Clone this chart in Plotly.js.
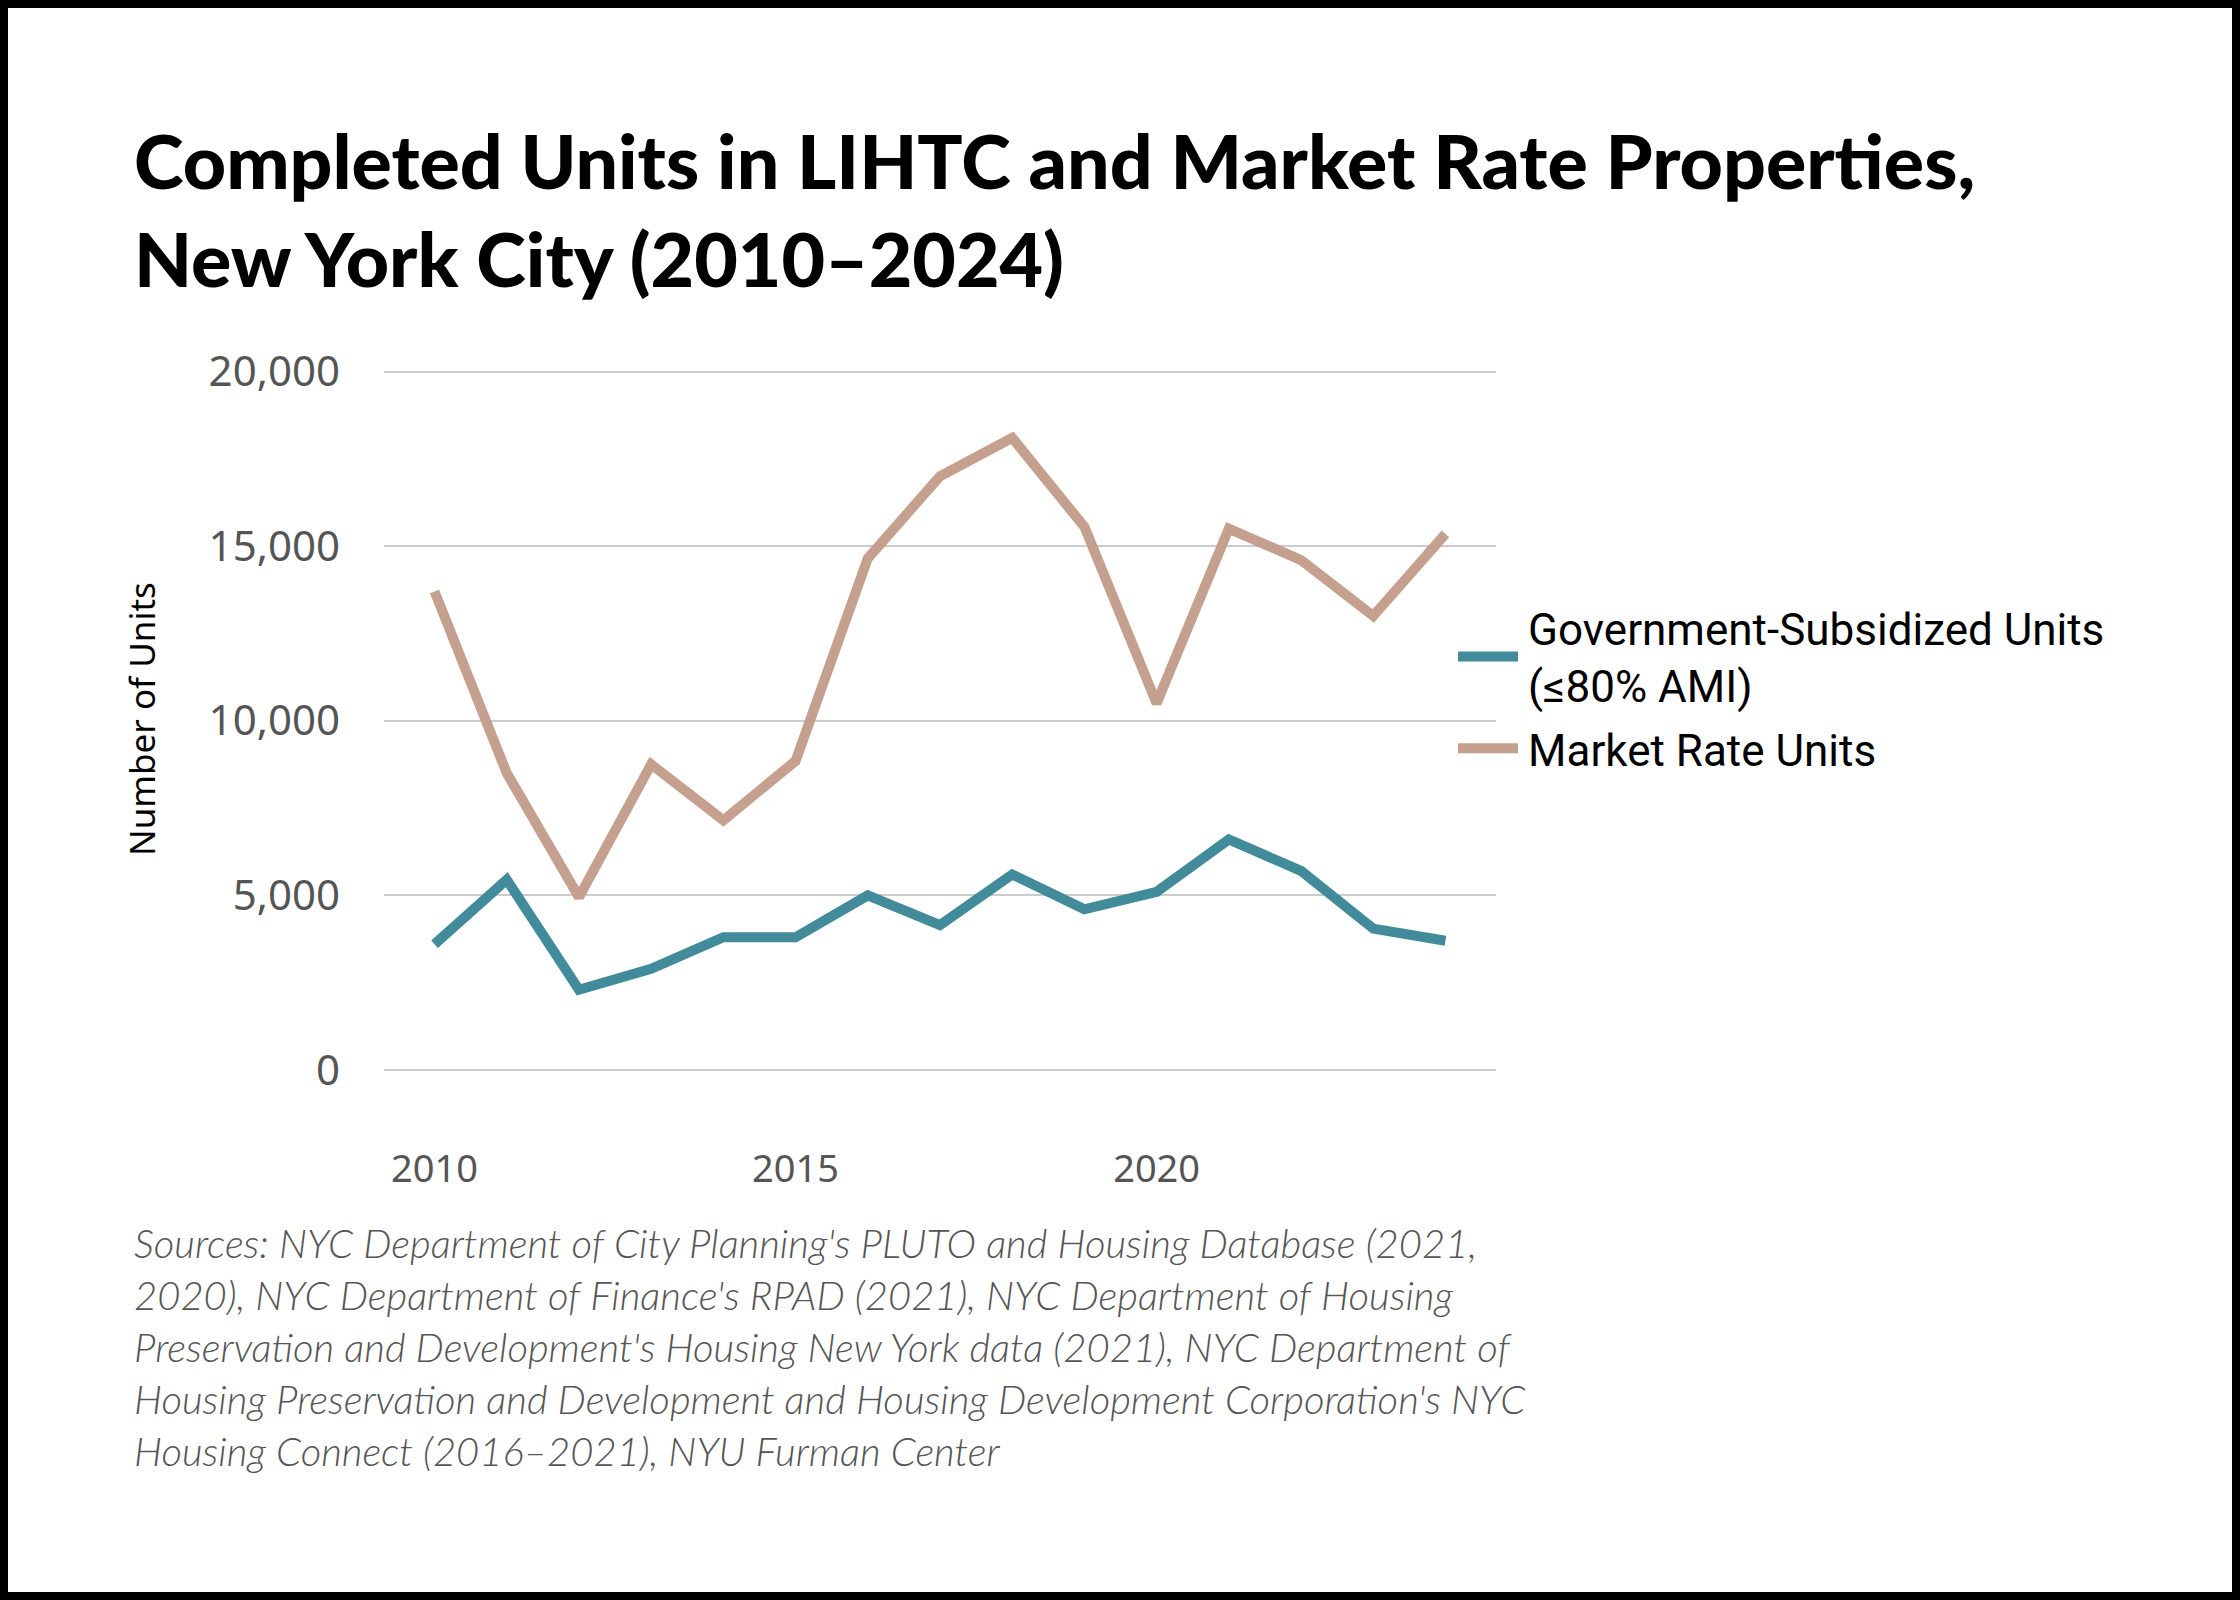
<!DOCTYPE html>
<html>
<head>
<meta charset="utf-8">
<script src="https://cdn.plot.ly/plotly-3.0.1.min.js"></script>
<style>
  html, body { margin: 0; padding: 0; background: #fff; overflow: hidden; }
  #wrap { position: relative; width: 2240px; height: 1600px; }
  #chart { position: absolute; left: 0; top: 0; width: 1120px; height: 800px;
           transform: scale(2); transform-origin: 0 0; }
  #frame { position: absolute; left: 0; top: 0; width: 2240px; height: 1600px;
           box-sizing: border-box; border: 8px solid #000; pointer-events: none; }
</style>
</head>
<body>
<div id="wrap">
  <div id="chart"></div>
  <div id="frame"></div>
</div>
<script>
const years = [2010, 2011, 2012, 2013, 2014, 2015, 2016, 2017, 2018, 2019, 2020, 2021, 2022, 2023, 2024];
const subsidizedUnits = [3600, 5450, 2300, 2900, 3800, 3800, 5000, 4150, 5600, 4600, 5100, 6600, 5700, 4050, 3700];
const marketRateUnits = [13700, 8500, 4950, 8750, 7150, 8850, 14650, 17000, 18100, 15550, 10500, 15500, 14600, 13000, 15350];
const yTicks = [0, 5000, 10000, 15000, 20000];
const yTickText = ['0', '5,000', '10,000', '15,000', '20,000'];
const xTicks = [2010, 2015, 2020];

const sourcesText = "Sources: NYC Department of City Planning's PLUTO and Housing Database (2021,<br>" +
  "2020), NYC Department of Finance's RPAD (2021), NYC Department of Housing<br>" +
  "Preservation and Development's Housing New York data (2021), NYC Department of<br>" +
  "Housing Preservation and Development and Housing Development Corporation's NYC<br>" +
  "Housing Connect (2016–2021), NYU Furman Center";

const data = [
  {
    type: 'scatter',
    mode: 'lines',
    x: years,
    y: subsidizedUnits,
    name: 'Government-Subsidized Units<br>(≤80% AMI)',
    line: { color: '#428b9b', width: 5 },
    hoverinfo: 'x+y'
  },
  {
    type: 'scatter',
    mode: 'lines',
    x: years,
    y: marketRateUnits,
    name: 'Market Rate Units',
    line: { color: '#c6a08e', width: 5 },
    hoverinfo: 'x+y'
  }
];

// top of range a little above 20,000 so that gridline is not clipped at the edge
const layout = {
  width: 1120,
  height: 800,
  paper_bgcolor: '#ffffff',
  plot_bgcolor: '#ffffff',
  margin: { l: 192, r: 371.5, t: 183.75, b: 265 },
  title: {
    text: 'Completed Units in LIHTC and Market Rate Properties,<br>New York City (2010–2024)',
    font: { family: 'Lato', size: 37.6, color: '#000', weight: 900 },
    xref: 'container',
    yref: 'container',
    x: 67 / 1120,
    xanchor: 'left',
    y: 1 - 94.5 / 800,
    yanchor: 'top'
  },
  xaxis: {
    range: [2009.3, 2024.7],
    tickvals: xTicks,
    ticktext: xTicks.map(String),
    showgrid: false,
    zeroline: false,
    showline: false,
    ticks: '',
    ticklabelstandoff: 36,
    tickfont: { family: 'Noto Sans', size: 19, color: '#555555' }
  },
  yaxis: {
    range: [0, 20100],
    tickvals: yTicks,
    ticktext: yTickText,
    showgrid: true,
    gridcolor: '#cccccc',
    gridwidth: 1,
    zeroline: true,
    zerolinecolor: '#cccccc',
    zerolinewidth: 1,
    showline: false,
    ticks: '',
    ticklabelstandoff: 21,
    tickfont: { family: 'Noto Sans', size: 21, color: '#555555' },
    title: {
      text: 'Number of Units',
      font: { family: 'Noto Sans', size: 17.5, color: '#000' },
      standoff: 21
    }
  },
  showlegend: true,
  legend: {
    x: (724.5 - 192) / 556.5,
    xanchor: 'left',
    y: (535 - 293) / 351.25,
    yanchor: 'top',
    bgcolor: 'rgba(0,0,0,0)',
    borderwidth: 0,
    font: { family: 'Roboto', size: 22, color: '#000' }
  },
  annotations: [
    {
      xref: 'paper',
      yref: 'paper',
      x: (65 - 192) / 556.5,
      y: (535 - 607) / 351.25,
      xanchor: 'left',
      yanchor: 'top',
      align: 'left',
      showarrow: false,
      text: sourcesText,
      font: { family: 'Lato', size: 20, color: '#555555', style: 'italic', weight: 300 }
    }
  ],
  hovermode: 'closest'
};

Plotly.newPlot('chart', data, layout, { displayModeBar: false, staticPlot: true });
</script>
</body>
</html>
